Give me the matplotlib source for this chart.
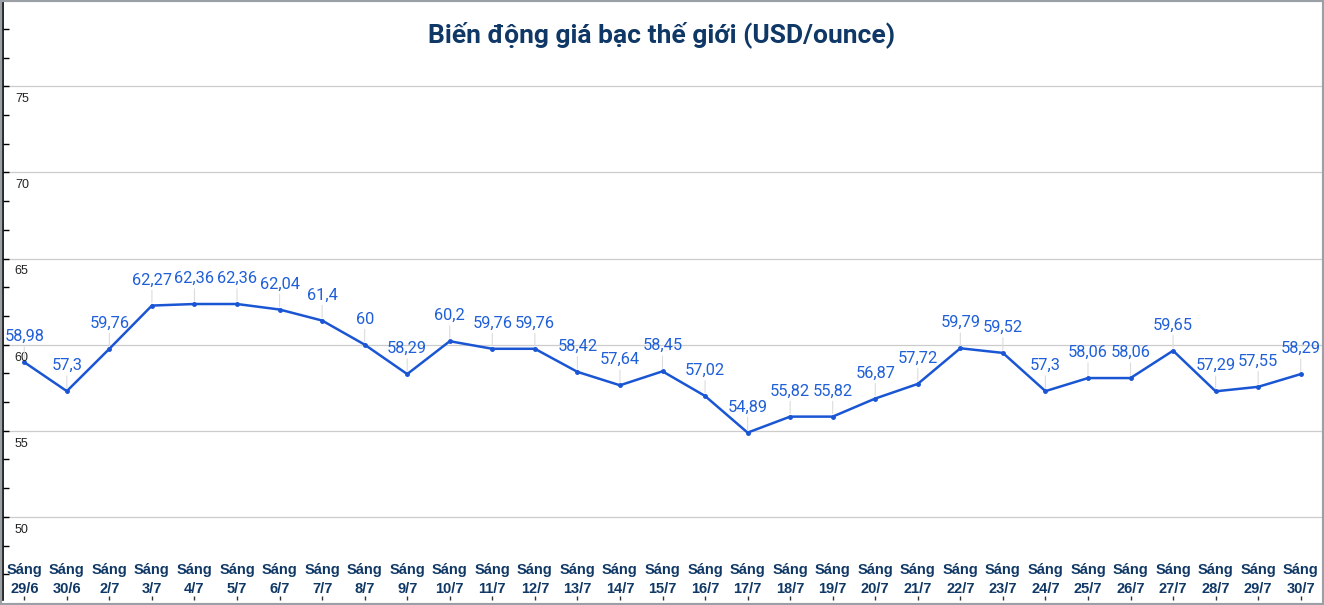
import matplotlib.pyplot as plt
from matplotlib.patches import Rectangle
from matplotlib.ticker import MultipleLocator
import matplotlib.transforms as mtrans

# dữ liệu giá bạc
dates = ["29/6", "30/6", "2/7", "3/7", "4/7", "5/7", "6/7", "7/7", "8/7", "9/7",
         "10/7", "11/7", "12/7", "13/7", "14/7", "15/7", "16/7", "17/7", "18/7", "19/7",
         "20/7", "21/7", "22/7", "23/7", "24/7", "25/7", "26/7", "27/7", "28/7", "29/7", "30/7"]
prices = [58.98, 57.3, 59.76, 62.27, 62.36, 62.36, 62.04, 61.4, 60, 58.29,
          60.2, 59.76, 59.76, 58.42, 57.64, 58.45, 57.02, 54.89, 55.82, 55.82,
          56.87, 57.72, 59.79, 59.52, 57.3, 58.06, 58.06, 59.65, 57.29, 57.55, 58.29]
yticks = [50, 55, 60, 65, 70, 75]
title = "Biến động giá bạc thế giới (USD/ounce)"

W, H = 1324, 605
fig = plt.figure(figsize=(W / 100, H / 100), dpi=100)
ax = fig.add_axes([3 / W, 5 / H, 1319 / W, 598 / H])

line_color = "#1a56d4"
label_color = "#1f5fd8"
navy = "#0f3866"

x = list(range(len(prices)))
ax.plot(x, prices, color=line_color, lw=1.8, marker="o", ms=2.5, zorder=3)

for xi, v in zip(x, prices):
    txt = f"{v:g}".replace(".", ",")
    ax.annotate(txt, (xi, v), xytext=(0, 13), textcoords="offset points",
                ha="center", va="bottom", fontsize=11.8, color=label_color,
                family=["Roboto", "DejaVu Sans"], zorder=4,
                arrowprops=dict(arrowstyle="-", color="#dcdcdc", lw=0.8,
                                shrinkA=0, shrinkB=2))

ax.set_xlim(-0.5, len(prices) - 0.5)
ax.set_ylim(45.17, 79.9)

# lưới ngang + nhãn trục y bên trong
ax.set_yticks(yticks)
ax.yaxis.set_minor_locator(MultipleLocator(5 / 3))
ax.grid(axis="y", which="major", color="#cccccc", lw=0.9)
ax.tick_params(axis="y", which="both", direction="in", length=4, width=1,
               color="black", labelleft=False)
for yv in yticks:
    ax.text(0.009, yv - 0.4, str(yv), transform=ax.get_yaxis_transform(),
            ha="left", va="top", fontsize=9, family="Liberation Sans", color="#222222")

# nhãn trục x bên trong vùng vẽ
ax.set_xticks(x)
ax.tick_params(axis="x", direction="in", length=3, width=1, color="#333333",
               labelbottom=False)
trans = mtrans.blended_transform_factory(ax.transData, ax.transAxes)
for xi, d in zip(x, dates):
    ax.text(xi, 0.006, f"Sáng\n{d}", transform=trans, ha="center", va="bottom",
            fontsize=10.5, fontweight="bold", color=navy, family="Liberation Sans",
            linespacing=1.5)

for s in ["top", "right", "bottom"]:
    ax.spines[s].set_visible(False)
ax.spines["left"].set_color("black")
ax.spines["left"].set_linewidth(1.2)

fig.text(0.5, 1 - 35 / H, title, ha="center", va="center", fontsize=19,
         fontweight="bold", color=navy, family="Roboto")

fig.patches.append(Rectangle((0, 0), 1, 1, transform=fig.transFigure, fill=False,
                             edgecolor="#9aa0a6", lw=3, zorder=10))

fig.savefig("out.png", dpi=100)
